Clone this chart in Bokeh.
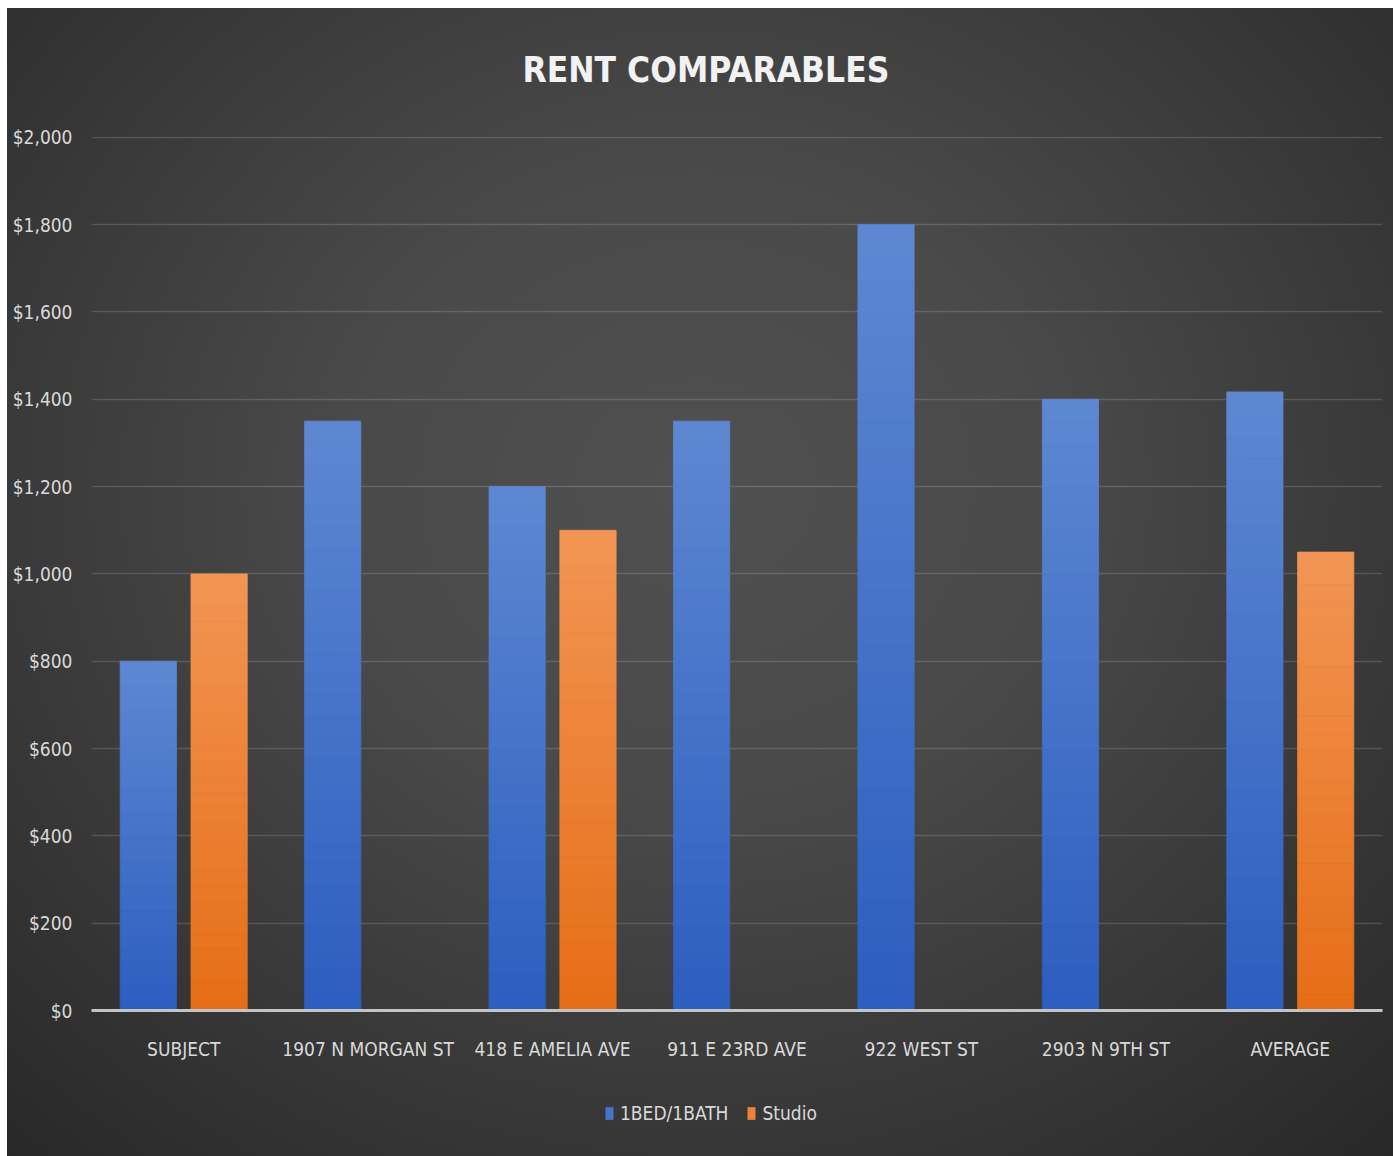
import numpy as np
from bokeh.plotting import figure
from bokeh.layouts import column
from bokeh.models import (ColumnDataSource, FactorRange, Range1d, FixedTicker,
                          NumeralTickFormatter, Legend, LegendItem)
from bokeh.transform import dodge
from bokeh.embed import file_html
from bokeh.resources import INLINE

# ---- data ----
categories = ["SUBJECT", "1907 N MORGAN ST", "418 E AMELIA AVE", "911 E 23RD AVE",
              "922 WEST ST", "2903 N 9TH ST", "AVERAGE"]
one_bed = [800, 1350, 1200, 1350, 1800, 1400, 1417]
studio = [1000, np.nan, 1100, np.nan, np.nan, np.nan, 1050]
y_ticks = [0, 200, 400, 600, 800, 1000, 1200, 1400, 1600, 1800, 2000]
series_names = ["1BED/1BATH", "Studio"]
title_text = "RENT COMPARABLES"

FONT = "DejaVu Sans Condensed, Roboto"
TXT = "#d9d9d9"
N_SLICES = 28
BLUE_TOP, BLUE_BOT = "#5f88d2", "#2c5ec0"
ORANGE_TOP, ORANGE_BOT = "#f29555", "#e66d16"


def hex_to_rgb(h):
    h = h.lstrip("#")
    return np.array([int(h[i:i + 2], 16) for i in (0, 2, 4)], dtype=float)


def gradient_source(values, top_hex, bottom_hex):
    """Split each bar (from the data values) into stacked slices for a vertical gradient."""
    vals = np.array(values, dtype=float)
    c_top, c_bot = hex_to_rgb(top_hex), hex_to_rgb(bottom_hex)
    cats, bottoms, tops, colors = [], [], [], []
    for k in range(N_SLICES):
        t = (k + 0.5) / N_SLICES
        rgb = c_bot + (c_top - c_bot) * t
        col = "#%02x%02x%02x" % tuple(int(round(c)) for c in rgb)
        for cat, v in zip(categories, vals):
            cats.append(cat)
            bottoms.append(v * k / N_SLICES)
            tops.append(v * (k + 1) / N_SLICES)
            colors.append(col)
    return ColumnDataSource(data=dict(cat=cats, bottom=np.array(bottoms),
                                      top=np.array(tops), color=colors))


src1 = gradient_source(one_bed, BLUE_TOP, BLUE_BOT)
src2 = gradient_source(studio, ORANGE_TOP, ORANGE_BOT)
x_range = FactorRange(*categories, range_padding=0)

# ---------------- main chart ----------------
p = figure(width=1393, height=1080, x_range=x_range,
           y_range=Range1d(0, 2002), output_backend="svg", toolbar_location=None,
           min_border_left=91, min_border_right=11, min_border_top=136,
           min_border_bottom=70)
p.border_fill_alpha = 0
p.background_fill_alpha = 0
p.outline_line_color = None

p.title.text = title_text
p.title.align = "left"
p.title.text_font = FONT
p.title.text_font_style = "bold"
p.title.text_font_size = "35px"
p.title.text_color = "#f2f2f2"
p.title.standoff = 94
p.title.offset = 431

p.vbar(x=dodge("cat", -0.192, range=x_range), bottom="bottom", top="top",
       width=0.305, source=src1, fill_color="color", line_color="color", line_width=0.8)
p.vbar(x=dodge("cat", 0.192, range=x_range), bottom="bottom", top="top",
       width=0.305, source=src2, fill_color="color", line_color="color", line_width=0.8)

p.xgrid.grid_line_color = None
p.ygrid.grid_line_color = "white"
p.ygrid.grid_line_alpha = 0.15
p.ygrid.grid_line_width = 1.5

p.yaxis.ticker = FixedTicker(ticks=y_ticks)
p.yaxis.formatter = NumeralTickFormatter(format="$0,0")
p.yaxis.axis_line_color = None
p.yaxis.major_tick_line_color = None
p.yaxis.minor_tick_line_color = None
p.yaxis.major_tick_out = 0
p.yaxis.minor_tick_out = 0
p.yaxis.major_label_standoff = 19
p.yaxis.major_label_text_font = FONT
p.yaxis.major_label_text_font_size = "19px"
p.yaxis.major_label_text_color = TXT

p.xaxis.axis_line_color = "#c4c4c4"
p.xaxis.axis_line_width = 3
p.xaxis.major_tick_line_color = None
p.xaxis.minor_tick_line_color = None
p.xaxis.major_tick_out = 0
p.xaxis.minor_tick_out = 0
p.xaxis.major_label_standoff = 27
p.xaxis.major_label_text_font = FONT
p.xaxis.major_label_text_font_size = "19px"
p.xaxis.major_label_text_color = TXT

# ---------------- legend strip (same series, renderers hidden) ----------------
q = figure(width=1393, height=76, x_range=x_range, y_range=Range1d(0, 2002),
           output_backend="svg", toolbar_location=None,
           x_axis_location=None, y_axis_location=None, min_border=0)
q.border_fill_alpha = 0
q.background_fill_alpha = 0
q.outline_line_color = None
q.grid.grid_line_color = None

k1 = q.vbar(x=dodge("cat", -0.192, range=x_range), bottom="bottom", top="top",
            width=0.305, source=src1, fill_color="color", line_color=None, visible=False)
k2 = q.vbar(x=dodge("cat", 0.192, range=x_range), bottom="bottom", top="top",
            width=0.305, source=src2, fill_color="color", line_color=None, visible=False)

mid = (N_SLICES // 2) * len(categories)
legend = Legend(items=[LegendItem(label=series_names[0], renderers=[k1], index=mid),
                       LegendItem(label=series_names[1], renderers=[k2], index=mid)],
                location=(513, 32), orientation="horizontal",
                background_fill_alpha=0, border_line_color=None,
                inactive_fill_alpha=0,
                label_text_font=FONT, label_text_font_size="19px",
                label_text_color=TXT, glyph_width=10, glyph_height=16,
                label_standoff=6, spacing=18, padding=0, margin=0)
q.add_layout(legend, "center")

page = column(p, q, spacing=0,
              styles={"background": ("linear-gradient(#ffffff, #ffffff) top left / 100% 8px no-repeat, "
                                     "linear-gradient(#ffffff, #ffffff) top left / 7px 100% no-repeat, "
                                     "radial-gradient(ellipse 75% 80% at 50% 42%, #505050 0%, #494949 35%, "
                                     "#373737 70%, #272727 100%)")})

open("out.html", "w").write(file_html(page, INLINE))
